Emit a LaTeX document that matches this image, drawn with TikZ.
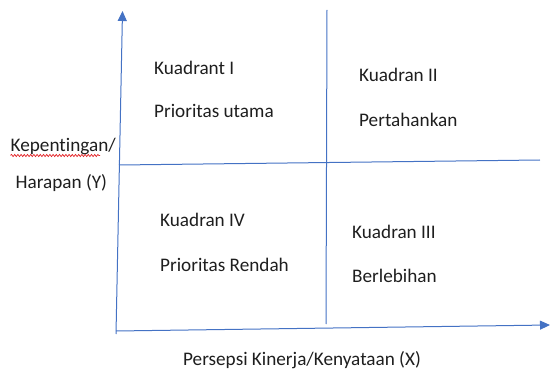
\documentclass[tikz,border=0pt]{standalone}
\usepackage{fontspec}
\setmainfont{Carlito}[Ligatures={NoCommon}]
\usetikzlibrary{arrows.meta, positioning, decorations.pathmorphing}
\definecolor{axisblue}{HTML}{4472C4}
\definecolor{textmain}{HTML}{1E1E1E}
\definecolor{spellred}{HTML}{E3262A}

\begin{document}
\begin{tikzpicture}[x=1pt, y=-1pt,
    axisline/.style={draw=axisblue, line width=1pt},
    axisarrow/.style={axisline, -{Triangle[length=10pt, width=9pt]}},
    quadtext/.style={anchor=base west, inner sep=0pt, text=textmain,
                     font=\fontsize{19.2}{22}\selectfont}]
    \useasboundingbox (0,0) rectangle (550,369);

    % axes and dividers
    \coordinate (ybot) at (116,334);
    \coordinate (ytop) at (122.5,11);
    \coordinate (xleft) at (116,331);
    \coordinate (xright) at (550,325);
    \coordinate (hleft) at (119,165);
    \coordinate (hright) at (540,160);
    \coordinate (vtop) at (327,10);
    \coordinate (vbot) at (326,324);
    \draw[axisarrow] (ybot) -- (ytop);
    \draw[axisarrow] (xleft) -- (xright);
    \draw[axisline] (hleft) -- (hright);
    \draw[axisline] (vtop) -- (vbot);

    % quadrants
    \node[quadtext] (q1) at (154,75) {Kuadrant I};
    \node[quadtext, below=43pt of q1.base west, anchor=base west] (q1b) {Prioritas utama};
    \node[quadtext] (q2) at (359,81.5) {Kuadran II};
    \node[quadtext, below=45pt of q2.base west, anchor=base west] (q2b) {Pertahankan};
    \node[quadtext] (q4) at (160,226) {Kuadran IV};
    \node[quadtext, below=45.5pt of q4.base west, anchor=base west] (q4b) {Prioritas Rendah};
    \node[quadtext] (q3) at (352,238) {Kuadran III};
    \node[quadtext, below=45pt of q3.base west, anchor=base west] (q3b) {Berlebihan};

    % axis labels
    \node[quadtext] (ylab) at (10.5,152) {Kepentingan/};
    \node[quadtext, below=36.5pt of ylab.base west, anchor=base west, xshift=5pt] (ylab2) {Harapan (Y)};
    \node[quadtext] (xlab) at (183,365) {Persepsi Kinerja/Kenyataan (X)};

    \coordinate (wavel) at (10.5,155.5);
    \coordinate (waver) at (100,155.5);
    \draw[spellred, line width=0.7pt, decorate,
          decoration={snake, amplitude=1.1pt, segment length=3.2pt}] (wavel) -- (waver);
\end{tikzpicture}
\end{document}
